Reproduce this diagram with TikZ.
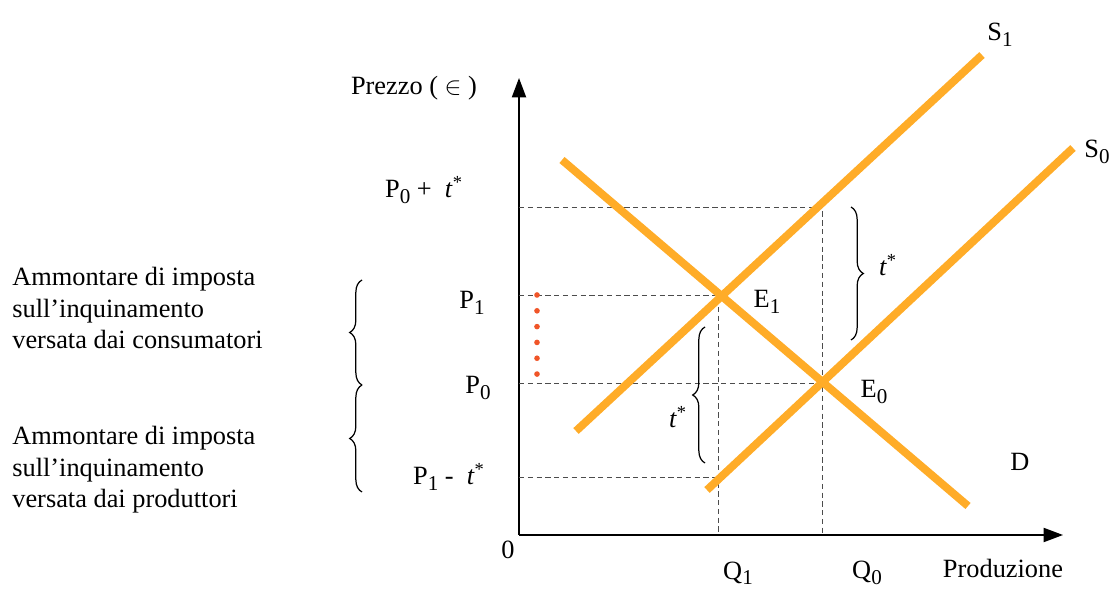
\documentclass[tikz,border=0pt]{standalone}
\usepackage{fontspec}
\setmainfont{Liberation Serif}
\usetikzlibrary{arrows.meta,decorations.pathreplacing}
\definecolor{curveorange}{RGB}{255,172,40}
\definecolor{dotred}{RGB}{240,85,40}
\newcommand{\tstar}{\textit{t}\textsuperscript{*}}
\newcommand{\lowsub}[1]{\raisebox{-0.45ex}{\fontsize{12}{12}\selectfont #1}}

\begin{document}
\begin{tikzpicture}[x=0.02cm,y=-0.02cm,font=\fontsize{15}{18}\selectfont,
  curve/.style={curveorange,line width=4.5pt},
  guide/.style={black!70,densely dashed,line width=0.4pt},
  axis/.style={-{Triangle[length=11pt,width=8pt]},line width=1pt},
  brc/.style={decorate,decoration={brace,amplitude=7pt},line width=0.7pt}]
  \useasboundingbox (0,0) rectangle (1112,590);
  % axes
  \coordinate (o) at (519,535);
  \coordinate (ytop) at (519,78);
  \coordinate (xend) at (1063,535);
  \draw[axis] (o)--(ytop);
  \draw[axis] (o)--(xend);
  % equilibria and levels
  \coordinate (E1) at (718,295);
  \coordinate (E0) at (822,383);
  \coordinate (top) at (822,207);
  \coordinate (low) at (718,477);
  \coordinate (p0t) at (519,207);
  \coordinate (p1) at (519,295);
  \coordinate (p0) at (519,383);
  \coordinate (p1t) at (519,477);
  \coordinate (q1) at (718,535);
  \coordinate (q0) at (822,535);
  \draw[guide] (p0t)--(top)--(q0);
  \draw[guide] (p1)--(E1)--(q1);
  \draw[guide] (p0)--(E0);
  \draw[guide] (p1t)--(low);
  % curves
  \coordinate (d0) at (562,160);
  \coordinate (d1) at (968,506);
  \coordinate (sa0) at (576,431);
  \coordinate (sa1) at (982,55);
  \coordinate (sb0) at (707,490);
  \coordinate (sb1) at (1073,148);
  \draw[curve] (d0)--(d1);
  \draw[curve] (sa0)--(sa1);
  \draw[curve] (sb0)--(sb1);
  % red dots
  \coordinate (r0) at (537,295);
  \coordinate (r1) at (537,378);
  \draw[dotred,line width=3.2pt,line cap=round,dash pattern=on 0pt off 9pt] (r0)--(r1);
  % braces
  \draw[brc] (851,207)--(851,340);
  \draw[brc] (705,463)--(705,327);
  \draw[brc] (362,385)--(362,280);
  \draw[brc] (362,492)--(362,385);
  % labels
  \node (prezzo) at (414,88) {Prezzo ( $\in$ )};
  \node (lp0t) at (424,190) {P\lowsub{0} +\ \ \tstar};
  \node (lp1) at (472,303) {P\lowsub{1}};
  \node (lp0) at (478,388) {P\lowsub{0}};
  \node (lp1t) at (449,477) {P\lowsub{1} -\ \ \tstar};
  \node (le1) at (767,302) {E\lowsub{1}};
  \node (le0) at (874,392) {E\lowsub{0}};
  \node (ld) at (1020,462) {D};
  \node (ls1) at (1000,35) {S\lowsub{1}};
  \node (ls0) at (1097,152) {S\lowsub{0}};
  \node (ltr) at (888,265) {\tstar};
  \node (ltm) at (678,417) {\tstar};
  \node (lo) at (508,550) {0};
  \node (lq1) at (738,573) {Q\lowsub{1}};
  \node (lq0) at (867,573) {Q\lowsub{0}};
  \node (lprod) at (1003,568) {Produzione};
  \node[anchor=west,align=left,inner sep=0pt] (cons) at (12,308) {Ammontare di imposta\\sull'inquinamento\\versata dai consumatori};
  \node[anchor=west,align=left,inner sep=0pt] (prod) at (12,470) {Ammontare di imposta\\sull'inquinamento\\versata dai produttori};
\end{tikzpicture}
\end{document}
